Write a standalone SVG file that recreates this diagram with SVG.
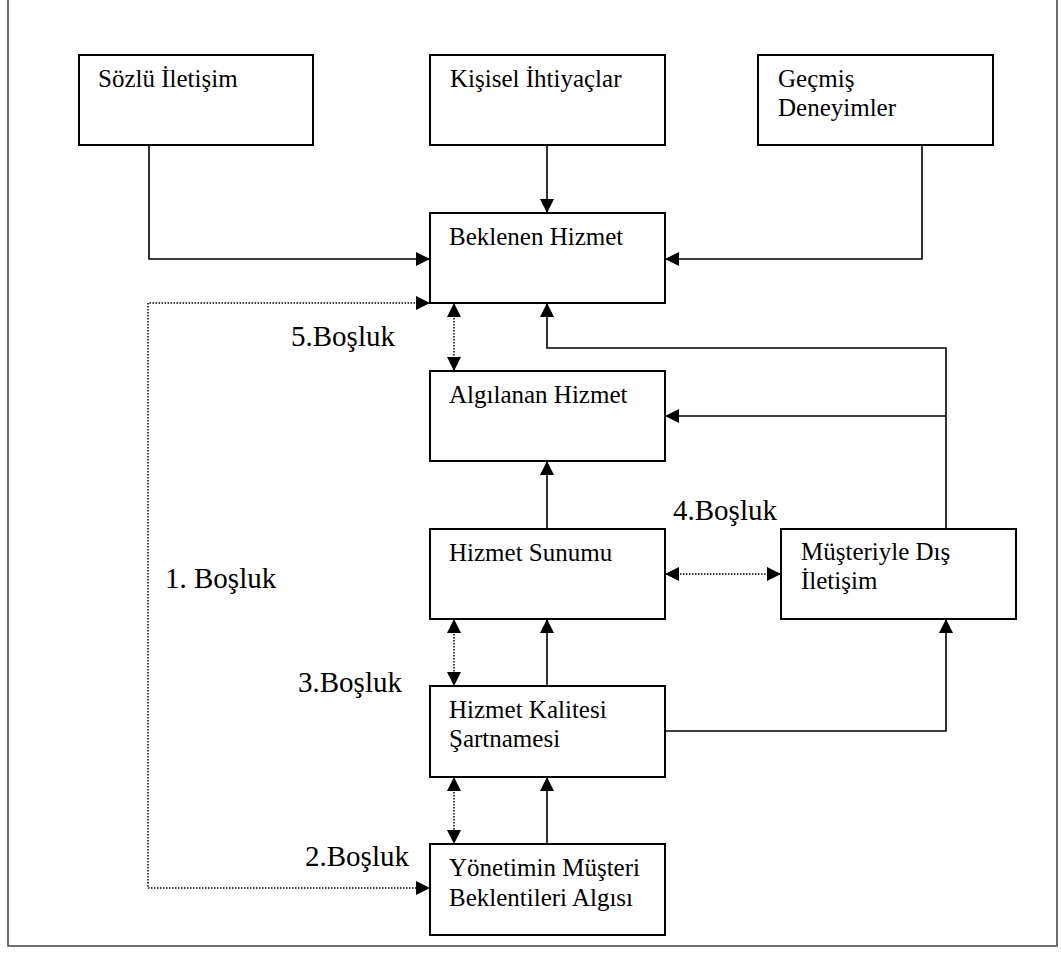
<svg xmlns="http://www.w3.org/2000/svg" width="1061" height="955" viewBox="0 0 1061 955">
  <style>
    .box { fill: #ffffff; stroke: #000000; stroke-width: 2; }
    .txt { font-family: "Liberation Serif", "Times New Roman", serif; font-size: 25px; fill: #000000; }
    .gap { font-family: "Liberation Serif", "Times New Roman", serif; font-size: 29px; fill: #000000; }
    .solid { fill: none; stroke: #000000; stroke-width: 1.6; }
    .dot { fill: none; stroke: #000000; stroke-width: 1.5; stroke-dasharray: 1.5 1.5; }
  </style>
  <defs>
    <marker id="arrow" viewBox="0 0 14 14" refX="14" refY="7" markerWidth="14" markerHeight="14" markerUnits="userSpaceOnUse" orient="auto-start-reverse">
      <path d="M0,0 L14,7 L0,14 z" fill="#000000"/>
    </marker>
  </defs>

  <rect width="1061" height="955" fill="#ffffff"/>

  <!-- outer frame (top edge lies above the page) -->
  <path d="M8,-5 V946 H1057 V-5" fill="none" stroke="#404040" stroke-width="1.5"/>

  <!-- connectors -->
  <g id="connectors">
    <path class="solid" d="M149,145 V259 H430" marker-end="url(#arrow)"/>
    <path class="solid" d="M547,145 V213" marker-end="url(#arrow)"/>
    <path class="solid" d="M922,145 V259 H665" marker-end="url(#arrow)"/>
    <path class="dot" d="M430,303 H148 V888 H430" marker-start="url(#arrow)" marker-end="url(#arrow)"/>
    <path class="dot" d="M454,303 V371" marker-start="url(#arrow)" marker-end="url(#arrow)"/>
    <path class="solid" d="M547,529 V461" marker-end="url(#arrow)"/>
    <path class="solid" d="M946,529 V348 H547 V303" marker-end="url(#arrow)"/>
    <path class="solid" d="M946,416 H665" marker-end="url(#arrow)"/>
    <path class="dot" d="M665,574 H781" marker-start="url(#arrow)" marker-end="url(#arrow)"/>
    <path class="dot" d="M454,619 V686" marker-start="url(#arrow)" marker-end="url(#arrow)"/>
    <path class="solid" d="M547,686 V619" marker-end="url(#arrow)"/>
    <path class="solid" d="M665,731 H946 V619" marker-end="url(#arrow)"/>
    <path class="dot" d="M454,777 V844" marker-start="url(#arrow)" marker-end="url(#arrow)"/>
    <path class="solid" d="M547,844 V777" marker-end="url(#arrow)"/>
  </g>

  <!-- nodes -->
  <g id="sozlu-iletisim">
    <rect class="box" x="79" y="55" width="234" height="90"/>
    <text class="txt" x="98" y="87">Sözlü İletişim</text>
  </g>
  <g id="kisisel-ihtiyaclar">
    <rect class="box" x="430" y="55" width="235" height="90"/>
    <text class="txt" x="450" y="87">Kişisel İhtiyaçlar</text>
  </g>
  <g id="gecmis-deneyimler">
    <rect class="box" x="758" y="55" width="235" height="90"/>
    <text class="txt" x="778" y="87">Geçmiş</text>
    <text class="txt" x="778" y="116">Deneyimler</text>
  </g>
  <g id="beklenen-hizmet">
    <rect class="box" x="430" y="213" width="235" height="90"/>
    <text class="txt" x="449" y="245">Beklenen Hizmet</text>
  </g>
  <g id="algilanan-hizmet">
    <rect class="box" x="430" y="371" width="235" height="90"/>
    <text class="txt" x="449" y="403">Algılanan Hizmet</text>
  </g>
  <g id="hizmet-sunumu">
    <rect class="box" x="430" y="529" width="235" height="90"/>
    <text class="txt" x="449" y="561">Hizmet Sunumu</text>
  </g>
  <g id="musteriyle-dis-iletisim">
    <rect class="box" x="781" y="529" width="235" height="90"/>
    <text class="txt" x="801" y="560">Müşteriyle Dış</text>
    <text class="txt" x="801" y="589">İletişim</text>
  </g>
  <g id="hizmet-kalitesi-sartnamesi">
    <rect class="box" x="430" y="686" width="235" height="91"/>
    <text class="txt" x="449" y="718">Hizmet Kalitesi</text>
    <text class="txt" x="449" y="747">Şartnamesi</text>
  </g>
  <g id="yonetimin-algisi">
    <rect class="box" x="430" y="844" width="235" height="91"/>
    <text class="txt" x="449" y="876">Yönetimin Müşteri</text>
    <text class="txt" x="449" y="906">Beklentileri Algısı</text>
  </g>

  <!-- gap labels -->
  <g id="gap-labels">
    <text class="gap" x="291" y="346">5.Boşluk</text>
    <text class="gap" x="673" y="520">4.Boşluk</text>
    <text class="gap" x="165" y="588">1. Boşluk</text>
    <text class="gap" x="298" y="692">3.Boşluk</text>
    <text class="gap" x="305" y="866">2.Boşluk</text>
  </g>
</svg>
